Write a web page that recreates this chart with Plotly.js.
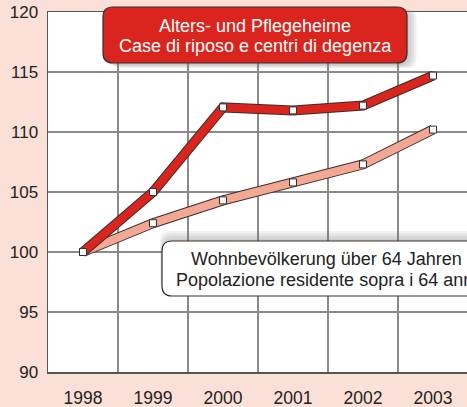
<!DOCTYPE html>
<html><head><meta charset="utf-8">
<script src="https://cdn.plot.ly/plotly-3.0.1.min.js"></script>
<style>html,body{margin:0;padding:0;overflow:hidden;background:#fbe0d7;}</style>
</head><body><div id="chart"></div>
<script>
const years = [1998, 1999, 2000, 2001, 2002, 2003];
const heime = [100, 105.0, 112.05, 111.8, 112.2, 114.7];
const bevoelkerung = [100, 102.4, 104.3, 105.8, 107.3, 110.2];
const labelHeime = ['Alters- und Pflegeheime', 'Case di riposo e centri di degenza'];
const labelBev = ['Wohnbevölkerung über 64 Jahren', 'Popolazione residente sopra i 64 anni'];

const W = 468, H = 407, ML = 48, MT = 12, MB = 35;
const PW = W - ML, PH = H - MT - MB;
const px = v => (v - ML) / PW;
const py = v => (H - MB - v) / PH;

function roundRect(x0, y0, x1, y1, r) {
  const rx = r / PW, ry = r / PH;
  const a = px(x0), b = px(x1), t = py(y0), u = py(y1);
  return `M ${a+rx},${t} L ${b-rx},${t} Q ${b},${t} ${b},${t-ry} L ${b},${u+ry} Q ${b},${u} ${b-rx},${u} L ${a+rx},${u} Q ${a},${u} ${a},${u+ry} L ${a},${t-ry} Q ${a},${t} ${a+rx},${t} Z`;
}

const outline = '#3a2e2c';
function series(y, col) {
  return [
    {x: years, y: y, type: 'scatter', mode: 'lines', line: {color: outline, width: 10}, hoverinfo: 'skip', showlegend: false},
    {x: years, y: y, type: 'scatter', mode: 'lines+markers', line: {color: col, width: 8},
     marker: {symbol: 'square', size: 7, color: '#ffffff', line: {color: outline, width: 1}}, showlegend: false}
  ];
}
const data = [...series(bevoelkerung, '#f2a892'), ...series(heime, '#d9251d')];

const shapes = [];
for (let i = 0; i < 4; i++) {
  shapes.push({type: 'path', xref: 'paper', yref: 'paper', layer: 'above',
    path: roundRect(105 + i*2.5, 9, 409 + i*2.5, 65 + i, 10), fillcolor: 'rgba(120,120,120,0.12)', line: {width: 0}});
  shapes.push({type: 'path', xref: 'paper', yref: 'paper', layer: 'above',
    path: roundRect(160 + i, 231 + i*2.5, 490, 292, 10), fillcolor: 'rgba(120,120,120,0.10)', line: {width: 0}});
}
shapes.push({type: 'path', xref: 'paper', yref: 'paper', layer: 'above',
  path: roundRect(103, 7, 407, 63, 10), fillcolor: '#d9251d', line: {color: outline, width: 1.2}});
shapes.push({type: 'path', xref: 'paper', yref: 'paper', layer: 'above',
  path: roundRect(162, 241, 490, 296, 10), fillcolor: '#ffffff', line: {color: outline, width: 1.2}});

function ann(text, cx, cy, color) {
  return {xref: 'paper', yref: 'paper', x: px(cx), y: py(cy), text: text, showarrow: false,
    font: {size: 18, color: color}, xanchor: 'center', yanchor: 'middle'};
}

const layout = {
  width: W, height: H,
  margin: {l: ML, r: 0, t: MT, b: MB, pad: 0},
  paper_bgcolor: '#fbe0d7', plot_bgcolor: '#ffffff',
  font: {family: 'Liberation Sans, Arial, sans-serif', size: 17, color: '#222222'},
  xaxis: {range: [1997.5, 2003.5], tickvals: years, ticktext: years.map(String), showgrid: false,
    ticks: '', ticklen: 0, showline: true, linecolor: '#555555', linewidth: 1.5, mirror: true, zeroline: false,
    ticklabelstandoff: 9,
    minor: {tickvals: [1998.5, 1999.5, 2000.5, 2001.5, 2002.5], showgrid: true, gridcolor: '#8a8a8a', gridwidth: 1.2, ticks: ''},
    tickfont: {size: 17.5}, fixedrange: true},
  yaxis: {range: [90, 120], tickvals: [90, 95, 100, 105, 110, 115, 120], showgrid: true, gridcolor: '#8a8a8a', gridwidth: 1.2,
    showline: true, linecolor: '#555555', linewidth: 1.5, mirror: true, zeroline: false, ticks: '', ticklen: 0,
    ticklabelstandoff: 5,
    tickfont: {size: 17}, fixedrange: true},
  shapes: shapes,
  annotations: [
    ann(labelHeime[0], 255, 26, '#ffffff'),
    ann(labelHeime[1], 255, 46, '#ffffff'),
    ann(labelBev[0], 326, 259, '#222222'),
    ann(labelBev[1], 326, 280, '#222222')
  ]
};
Plotly.newPlot('chart', data, layout, {staticPlot: true, displayModeBar: false});
</script></body></html>
